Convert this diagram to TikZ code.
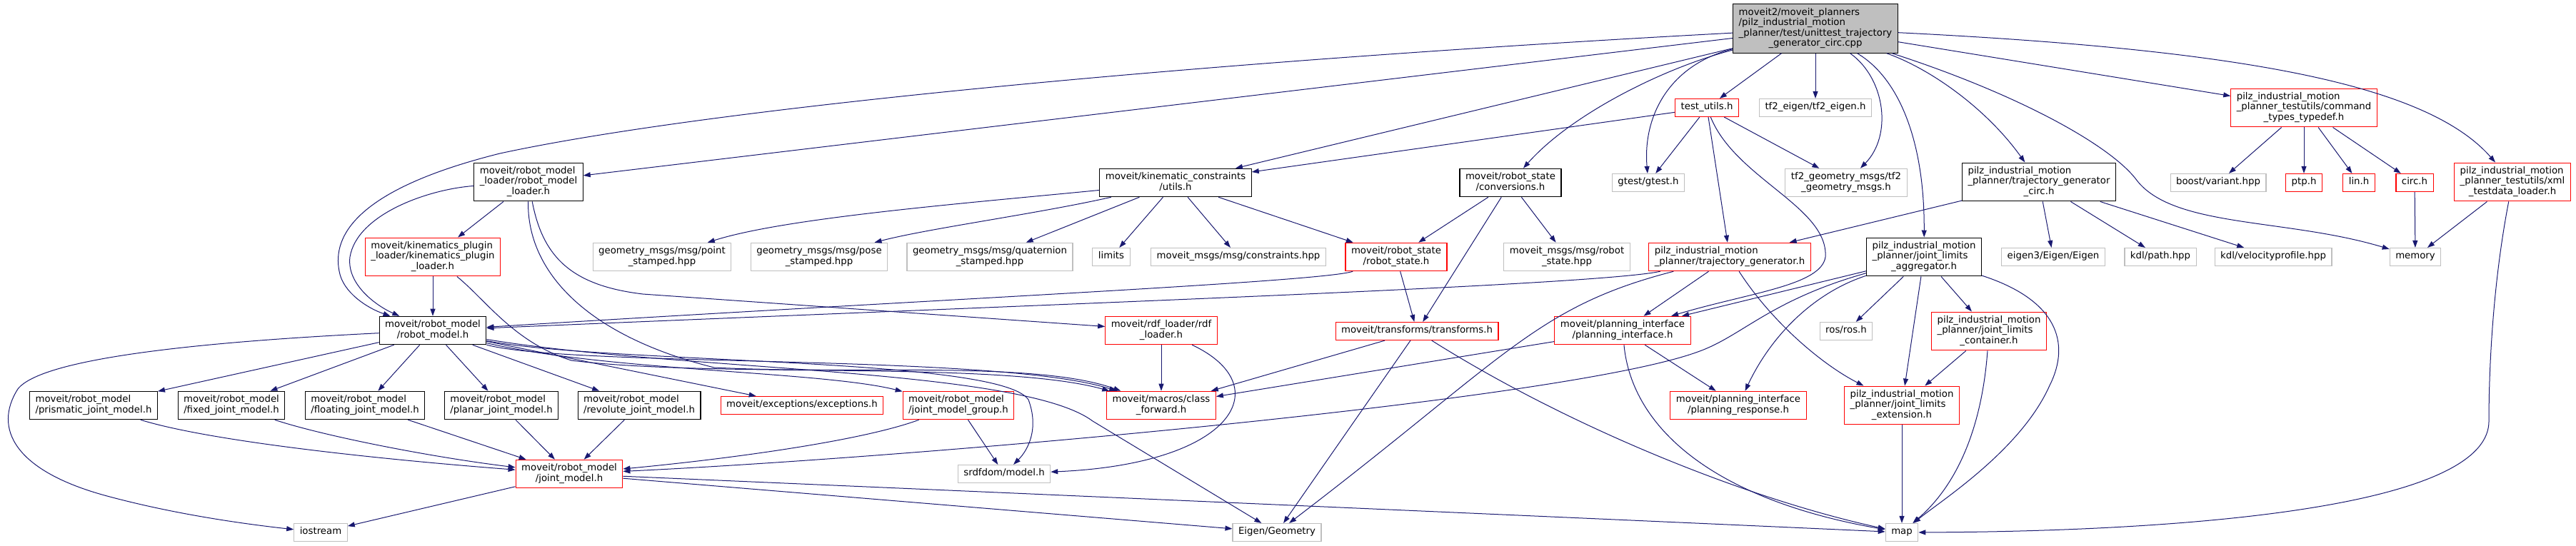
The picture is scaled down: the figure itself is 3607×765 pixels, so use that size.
\documentclass[tikz,border=0pt]{standalone}
\usepackage{fontspec}
\setmainfont{DejaVu Sans}
\usepackage{xcolor}
\usepackage{tikz}
\usetikzlibrary{arrows.meta, positioning}

\definecolor{edgeblue}{HTML}{191970}
\definecolor{boxgray}{HTML}{BFBFBF}

% Nhãn nhiều dòng: các dòng đầu canh trái, dòng cuối canh giữa
\newcommand{\dl}[2]{\begin{tabular}{@{}l@{}}#1\\\multicolumn{1}{@{}c@{}}{#2}\end{tabular}}
\newcommand{\ds}[1]{\begin{tabular}{@{}c@{}}#1\end{tabular}}

\begin{document}
\begin{tikzpicture}[x=1pt, y=-1pt,
    every node/.style={font={\fontsize{13.3}{14.4}\selectfont}, inner xsep=8pt, inner ysep=5.3pt, line width=1.1pt},
    docbox/.style={draw=black},
    redbox/.style={draw=red},
    extbox/.style={draw=boxgray},
    mainbox/.style={draw=black, fill=boxgray},
    dep/.style={draw=edgeblue, line width=1pt, -{Triangle[length=10pt, width=7pt]}}]
        \useasboundingbox (0,0) rectangle (3607,765);

        % Nút gốc
        \node[mainbox] (main) at (2542,40) {\dl{moveit2/moveit\_planners\\/pilz\_industrial\_motion\\\_planner/test/unittest\_trajectory}{\_generator\_circ.cpp}};

        % Hàng thứ hai
        \node[redbox] (testutils) at (2390,151) {\ds{test\_utils.h}};
        \node[extbox] (tfeigen) at (2542,151) {\ds{tf2\_eigen/tf2\_eigen.h}};
        \node[redbox] (cmdtypes) at (3226,151) {\dl{pilz\_industrial\_motion\\\_planner\_testutils/command}{\_types\_typedef.h}};

        % Hàng thứ ba
        \node[docbox] (loader) at (740,255) {\dl{moveit/robot\_model\\\_loader/robot\_model}{\_loader.h}};
        \node[docbox] (kcutils) at (1646,256) {\dl{moveit/kinematic\_constraints}{/utils.h}};
        \node[docbox] (conversions) at (2115,256) {\dl{moveit/robot\_state}{/conversions.h}};
        \node[extbox] (gtest) at (2308,256) {\ds{gtest/gtest.h}};
        \node[extbox] (tfgeom) at (2585,256) {\dl{tf2\_geometry\_msgs/tf2}{\_geometry\_msgs.h}};
        \node[docbox] (tgcirc) at (2855,255) {\dl{pilz\_industrial\_motion\\\_planner/trajectory\_generator}{\_circ.h}};
        \node[extbox] (variant) at (3106,256) {\ds{boost/variant.hpp}};
        \node[redbox] (ptp) at (3226,256) {\ds{ptp.h}};
        \node[redbox] (lin) at (3303,256) {\ds{lin.h}};
        \node[redbox] (circ) at (3381,256) {\ds{circ.h}};
        \node[redbox] (xmlloader) at (3518,255) {\dl{pilz\_industrial\_motion\\\_planner\_testutils/xml}{\_testdata\_loader.h}};

        % Hàng thứ tư
        \node[redbox] (kinloader) at (606,360) {\dl{moveit/kinematics\_plugin\\\_loader/kinematics\_plugin}{\_loader.h}};
        \node[extbox] (pointst) at (927,360) {\dl{geometry\_msgs/msg/point}{\_stamped.hpp}};
        \node[extbox] (posest) at (1147,360) {\dl{geometry\_msgs/msg/pose}{\_stamped.hpp}};
        \node[extbox] (quatst) at (1386,360) {\dl{geometry\_msgs/msg/quaternion}{\_stamped.hpp}};
        \node[extbox] (limits) at (1556,360) {\ds{limits}};
        \node[extbox] (constraints) at (1734,360) {\ds{moveit\_msgs/msg/constraints.hpp}};
        \node[redbox] (robotstate) at (1955,360) {\dl{moveit/robot\_state}{/robot\_state.h}};
        \node[extbox] (msgstate) at (2194,360) {\dl{moveit\_msgs/msg/robot}{\_state.hpp}};
        \node[redbox] (trajgen) at (2422,360) {\dl{pilz\_industrial\_motion}{\_planner/trajectory\_generator.h}};
        \node[docbox] (aggregator) at (2694,360) {\dl{pilz\_industrial\_motion\\\_planner/joint\_limits}{\_aggregator.h}};
        \node[extbox] (eigen3) at (2875,360) {\ds{eigen3/Eigen/Eigen}};
        \node[extbox] (kdlpath) at (3025,360) {\ds{kdl/path.hpp}};
        \node[extbox] (velprofile) at (3183,360) {\ds{kdl/velocityprofile.hpp}};
        \node[extbox] (memory) at (3382,360) {\ds{memory}};

        % Hàng thứ năm
        \node[docbox] (robotmodel) at (606,463) {\dl{moveit/robot\_model}{/robot\_model.h}};
        \node[redbox] (rdfloader) at (1626,463) {\dl{moveit/rdf\_loader/rdf}{\_loader.h}};
        \node[redbox] (transforms) at (1984,464) {\ds{moveit/transforms/transforms.h}};
        \node[redbox] (planint) at (2272,463) {\dl{moveit/planning\_interface}{/planning\_interface.h}};
        \node[extbox] (rosh) at (2585,464) {\ds{ros/ros.h}};
        \node[redbox] (container) at (2785,464) {\dl{pilz\_industrial\_motion\\\_planner/joint\_limits}{\_container.h}};

        % Hàng thứ sáu
        \node[docbox] (prismatic) at (131,568) {\dl{moveit/robot\_model}{/prismatic\_joint\_model.h}};
        \node[docbox] (fixed) at (324,568) {\dl{moveit/robot\_model}{/fixed\_joint\_model.h}};
        \node[docbox] (floating) at (511,568) {\dl{moveit/robot\_model}{/floating\_joint\_model.h}};
        \node[docbox] (planar) at (702,568) {\dl{moveit/robot\_model}{/planar\_joint\_model.h}};
        \node[docbox] (revolute) at (895,568) {\dl{moveit/robot\_model}{/revolute\_joint\_model.h}};
        \node[redbox] (exceptions) at (1123,568) {\ds{moveit/exceptions/exceptions.h}};
        \node[redbox] (jmgroup) at (1342,568) {\dl{moveit/robot\_model}{/joint\_model\_group.h}};
        \node[redbox] (classfwd) at (1626,568) {\dl{moveit/macros/class}{\_forward.h}};
        \node[redbox] (planresp) at (2434,568) {\dl{moveit/planning\_interface}{/planning\_response.h}};
        \node[redbox] (extension) at (2663,568) {\dl{pilz\_industrial\_motion\\\_planner/joint\_limits}{\_extension.h}};

        % Hai hàng cuối
        \node[redbox] (jointmodel) at (797,664) {\dl{moveit/robot\_model}{/joint\_model.h}};
        \node[extbox] (srdf) at (1406,664) {\ds{srdfdom/model.h}};
        \node[extbox] (iostream) at (449,746) {\ds{iostream}};
        \node[extbox] (eigengeo) at (1788,746) {\ds{Eigen/Geometry}};
        \node[extbox] (map) at (2663,746) {\ds{map}};

        % Các cạnh từ nút gốc
        \draw[dep] (main) .. controls (1700,85) and (1000,150) .. (700,215) .. controls (500,265) and (465,330) .. (475,380) .. controls (480,410) and (515,432) .. (robotmodel);
        \draw[dep] (main) -- (loader);
        \draw[dep] (main) -- (kcutils);
        \draw[dep] (main) .. controls (2330,95) and (2200,160) .. (conversions);
        \draw[dep] (main) .. controls (2340,90) and (2300,160) .. (gtest);
        \draw[dep] (main) -- (testutils);
        \draw[dep] (main) -- (tfeigen);
        \draw[dep] (main) .. controls (2640,110) and (2650,190) .. (tfgeom);
        \draw[dep] (main) .. controls (2660,110) and (2695,200) .. (aggregator);
        \draw[dep] (main) .. controls (2700,95) and (2780,150) .. (tgcirc);
        \draw[dep] (main) .. controls (2820,130) and (2950,200) .. (2990,250) .. controls (3040,320) and (3200,305) .. (memory);
        \draw[dep] (main) -- (cmdtypes);
        \draw[dep] (main) .. controls (3150,70) and (3400,120) .. (xmlloader);

        % test_utils.h
        \draw[dep] (testutils) -- (kcutils);
        \draw[dep] (testutils) -- (gtest);
        \draw[dep] (testutils) -- (tfgeom);
        \draw[dep] (testutils) -- (trajgen);
        \draw[dep] (testutils) .. controls (2430,250) and (2560,290) .. (2556,360) .. controls (2550,400) and (2450,410) .. (planint);

        % Các tệp kiểm thử của pilz
        \draw[dep] (cmdtypes) -- (variant);
        \draw[dep] (cmdtypes) -- (ptp);
        \draw[dep] (cmdtypes) -- (lin);
        \draw[dep] (cmdtypes) -- (circ);
        \draw[dep] (circ) -- (memory);
        \draw[dep] (xmlloader) -- (memory);
        \draw[dep] (xmlloader) .. controls (3490,400) and (3485,520) .. (3485,590) .. controls (3485,720) and (3000,745) .. (map);
        \draw[dep] (tgcirc) -- (trajgen);
        \draw[dep] (tgcirc) -- (eigen3);
        \draw[dep] (tgcirc) -- (kdlpath);
        \draw[dep] (tgcirc) -- (velprofile);

        % robot_model_loader và kinematics_plugin_loader
        \draw[dep] (loader) .. controls (600,265) and (500,300) .. (490,360) .. controls (485,400) and (530,430) .. (robotmodel);
        \draw[dep] (loader) -- (kinloader);
        \draw[dep] (loader) .. controls (760,360) and (800,400) .. (900,412) -- (rdfloader);
        \draw[dep] (loader) .. controls (738,380) and (820,470) .. (1000,515) .. controls (1200,525) and (1450,505) .. (classfwd);
        \draw[dep] (kinloader) -- (robotmodel);
        \draw[dep] (kinloader) .. controls (680,420) and (720,480) .. (800,505) .. controls (1000,530) and (1400,505) .. (classfwd);

        % kinematic_constraints, robot_state
        \draw[dep] (kcutils) .. controls (1350,285) and (1100,305) .. (pointst);
        \draw[dep] (kcutils) .. controls (1450,300) and (1300,320) .. (posest);
        \draw[dep] (kcutils) -- (quatst);
        \draw[dep] (kcutils) -- (limits);
        \draw[dep] (kcutils) -- (constraints);
        \draw[dep] (kcutils) -- (robotstate);
        \draw[dep] (conversions) -- (robotstate);
        \draw[dep] (conversions) -- (transforms);
        \draw[dep] (conversions) -- (msgstate);
        \draw[dep] (robotstate) .. controls (1850,395) and (1300,420) .. (robotmodel);
        \draw[dep] (robotstate) -- (transforms);

        % trajectory_generator.h
        \draw[dep] (trajgen) .. controls (2230,400) and (1500,425) .. (robotmodel);
        \draw[dep] (trajgen) .. controls (2150,430) and (2110,500) .. (eigengeo);
        \draw[dep] (trajgen) -- (planint);
        \draw[dep] (trajgen) .. controls (2480,450) and (2550,510) .. (extension);

        % transforms, planning_interface
        \draw[dep] (transforms) -- (classfwd);
        \draw[dep] (transforms) -- (eigengeo);
        \draw[dep] (transforms) .. controls (2200,600) and (2450,700) .. (map);
        \draw[dep] (planint) -- (classfwd);
        \draw[dep] (planint) -- (planresp);
        \draw[dep] (planint) .. controls (2285,600) and (2400,700) .. (map);

        % joint_limits
        \draw[dep] (aggregator) -- (planint);
        \draw[dep] (aggregator) .. controls (2480,420) and (2440,470) .. (2380,492) .. controls (2200,560) and (1300,640) .. (jointmodel);
        \draw[dep] (aggregator) .. controls (2540,410) and (2480,470) .. (planresp);
        \draw[dep] (aggregator) -- (rosh);
        \draw[dep] (aggregator) -- (extension);
        \draw[dep] (aggregator) -- (container);
        \draw[dep] (aggregator) .. controls (2880,420) and (2900,480) .. (2870,540) .. controls (2830,630) and (2720,700) .. (map);
        \draw[dep] (container) -- (extension);
        \draw[dep] (container) .. controls (2775,600) and (2740,680) .. (map);
        \draw[dep] (extension) -- (map);

        % robot_model.h
        \draw[dep] (robotmodel) -- (prismatic);
        \draw[dep] (robotmodel) -- (fixed);
        \draw[dep] (robotmodel) -- (floating);
        \draw[dep] (robotmodel) -- (planar);
        \draw[dep] (robotmodel) -- (revolute);
        \draw[dep] (robotmodel) .. controls (300,478) and (60,500) .. (25,545) .. controls (-10,600) and (20,660) .. (150,695) .. controls (250,722) and (350,735) .. (iostream);
        \draw[dep] (robotmodel) -- (exceptions);
        \draw[dep] (robotmodel) .. controls (850,520) and (1150,520) .. (jmgroup);
        \draw[dep] (robotmodel) .. controls (800,515) and (1400,495) .. (classfwd);
        \draw[dep] (robotmodel) .. controls (850,510) and (1400,500) .. (1440,560) .. controls (1455,600) and (1440,630) .. (srdf);
        \draw[dep] (robotmodel) .. controls (950,520) and (1430,515) .. (1530,590) -- (eigengeo);

        % rdf_loader, joint_model_group
        \draw[dep] (rdfloader) -- (classfwd);
        \draw[dep] (rdfloader) .. controls (1790,540) and (1730,650) .. (srdf);
        \draw[dep] (jmgroup) .. controls (1200,620) and (1000,645) .. (jointmodel);
        \draw[dep] (jmgroup) -- (srdf);

        % Các loại khớp và joint_model.h
        \draw[dep] (prismatic) .. controls (300,620) and (550,645) .. (jointmodel);
        \draw[dep] (fixed) .. controls (450,610) and (600,640) .. (jointmodel);
        \draw[dep] (floating) -- (jointmodel);
        \draw[dep] (planar) -- (jointmodel);
        \draw[dep] (revolute) -- (jointmodel);
        \draw[dep] (jointmodel) -- (iostream);
        \draw[dep] (jointmodel) -- (eigengeo);
        \draw[dep] (jointmodel) .. controls (1400,690) and (2200,725) .. (map);

    \end{tikzpicture}
\end{document}
